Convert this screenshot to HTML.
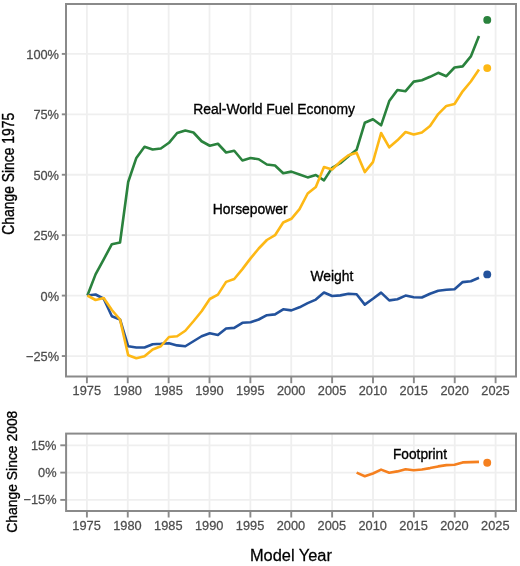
<!DOCTYPE html>
<html><head><meta charset="utf-8"><style>
html,body{margin:0;padding:0;background:#fff;}
svg{display:block;font-family:"Liberation Sans", sans-serif;will-change:transform;}
</style></head><body>
<svg width="520" height="566" viewBox="0 0 520 566">
<rect width="520" height="566" fill="#fff"/>
<line x1="86.90" y1="4" x2="86.90" y2="376.5" stroke="#efefef" stroke-width="1.8"/>
<line x1="127.77" y1="4" x2="127.77" y2="376.5" stroke="#efefef" stroke-width="1.8"/>
<line x1="168.64" y1="4" x2="168.64" y2="376.5" stroke="#efefef" stroke-width="1.8"/>
<line x1="209.51" y1="4" x2="209.51" y2="376.5" stroke="#efefef" stroke-width="1.8"/>
<line x1="250.38" y1="4" x2="250.38" y2="376.5" stroke="#efefef" stroke-width="1.8"/>
<line x1="291.25" y1="4" x2="291.25" y2="376.5" stroke="#efefef" stroke-width="1.8"/>
<line x1="332.12" y1="4" x2="332.12" y2="376.5" stroke="#efefef" stroke-width="1.8"/>
<line x1="372.99" y1="4" x2="372.99" y2="376.5" stroke="#efefef" stroke-width="1.8"/>
<line x1="413.86" y1="4" x2="413.86" y2="376.5" stroke="#efefef" stroke-width="1.8"/>
<line x1="454.73" y1="4" x2="454.73" y2="376.5" stroke="#efefef" stroke-width="1.8"/>
<line x1="495.60" y1="4" x2="495.60" y2="376.5" stroke="#efefef" stroke-width="1.8"/>
<line x1="66" y1="356.03" x2="516" y2="356.03" stroke="#efefef" stroke-width="1.8"/>
<line x1="66" y1="295.60" x2="516" y2="295.60" stroke="#efefef" stroke-width="1.8"/>
<line x1="66" y1="235.18" x2="516" y2="235.18" stroke="#efefef" stroke-width="1.8"/>
<line x1="66" y1="174.75" x2="516" y2="174.75" stroke="#efefef" stroke-width="1.8"/>
<line x1="66" y1="114.33" x2="516" y2="114.33" stroke="#efefef" stroke-width="1.8"/>
<line x1="66" y1="53.90" x2="516" y2="53.90" stroke="#efefef" stroke-width="1.8"/>
<line x1="86.90" y1="433.6" x2="86.90" y2="511.0" stroke="#efefef" stroke-width="1.8"/>
<line x1="127.77" y1="433.6" x2="127.77" y2="511.0" stroke="#efefef" stroke-width="1.8"/>
<line x1="168.64" y1="433.6" x2="168.64" y2="511.0" stroke="#efefef" stroke-width="1.8"/>
<line x1="209.51" y1="433.6" x2="209.51" y2="511.0" stroke="#efefef" stroke-width="1.8"/>
<line x1="250.38" y1="433.6" x2="250.38" y2="511.0" stroke="#efefef" stroke-width="1.8"/>
<line x1="291.25" y1="433.6" x2="291.25" y2="511.0" stroke="#efefef" stroke-width="1.8"/>
<line x1="332.12" y1="433.6" x2="332.12" y2="511.0" stroke="#efefef" stroke-width="1.8"/>
<line x1="372.99" y1="433.6" x2="372.99" y2="511.0" stroke="#efefef" stroke-width="1.8"/>
<line x1="413.86" y1="433.6" x2="413.86" y2="511.0" stroke="#efefef" stroke-width="1.8"/>
<line x1="454.73" y1="433.6" x2="454.73" y2="511.0" stroke="#efefef" stroke-width="1.8"/>
<line x1="495.60" y1="433.6" x2="495.60" y2="511.0" stroke="#efefef" stroke-width="1.8"/>
<line x1="66.1" y1="499.90" x2="516" y2="499.90" stroke="#efefef" stroke-width="1.8"/>
<line x1="66.1" y1="472.60" x2="516" y2="472.60" stroke="#efefef" stroke-width="1.8"/>
<line x1="66.1" y1="445.30" x2="516" y2="445.30" stroke="#efefef" stroke-width="1.8"/>
<polyline points="87.40,295.50 95.56,274.40 103.72,259.30 111.87,244.20 120.03,242.50 128.19,182.00 136.35,157.90 144.51,146.80 152.66,149.50 160.82,148.50 168.98,142.80 177.14,133.00 185.30,130.50 193.45,132.50 201.61,141.25 209.77,145.75 217.93,143.75 226.09,152.50 234.24,150.75 242.40,160.50 250.56,158.00 258.72,159.25 266.88,164.50 275.03,165.50 283.19,173.20 291.35,171.60 299.51,174.50 307.67,177.40 315.82,175.00 323.98,180.40 332.14,167.90 340.30,163.20 348.46,156.20 356.61,149.80 364.77,122.80 372.93,119.30 381.09,125.30 389.25,101.10 397.40,90.00 405.56,91.20 413.72,81.60 421.88,80.20 430.04,76.80 438.19,72.80 446.35,76.20 454.51,67.50 462.67,66.40 470.83,56.40 478.98,36.00" fill="none" stroke="#2a823d" stroke-width="2.6" stroke-linejoin="round" stroke-linecap="butt"/>
<polyline points="87.40,295.50 95.56,294.50 103.72,298.75 111.87,316.25 120.03,319.50 128.19,346.30 136.35,347.50 144.51,347.50 152.66,344.20 160.82,343.80 168.98,343.20 177.14,345.40 185.30,346.25 193.45,341.25 201.61,336.25 209.77,333.30 217.93,335.00 226.09,328.50 234.24,327.90 242.40,322.80 250.56,322.30 258.72,319.50 266.88,315.20 275.03,314.40 283.19,309.30 291.35,310.40 299.51,307.30 307.67,303.10 315.82,299.60 323.98,292.50 332.14,296.00 340.30,295.40 348.46,293.80 356.61,294.20 364.77,304.60 372.93,298.80 381.09,292.60 389.25,300.40 397.40,299.20 405.56,295.60 413.72,297.30 421.88,297.50 430.04,293.70 438.19,290.80 446.35,289.80 454.51,289.20 462.67,282.10 470.83,281.20 478.98,277.70" fill="none" stroke="#23529c" stroke-width="2.6" stroke-linejoin="round" stroke-linecap="butt"/>
<polyline points="87.40,295.50 95.56,300.00 103.72,298.00 111.87,310.00 120.03,319.50 128.19,355.20 136.35,358.20 144.51,356.25 152.66,349.50 160.82,346.25 168.98,337.00 177.14,336.25 185.30,330.75 193.45,321.25 201.61,311.25 209.77,299.00 217.93,294.60 226.09,281.90 234.24,279.00 242.40,269.10 250.56,258.40 258.72,248.50 266.88,240.00 275.03,235.20 283.19,222.50 291.35,218.80 299.51,209.20 307.67,193.50 315.82,187.00 323.98,167.00 332.14,169.50 340.30,161.60 348.46,155.20 356.61,152.70 364.77,172.10 372.93,162.20 381.09,133.00 389.25,147.30 397.40,140.30 405.56,132.00 413.72,134.50 421.88,132.40 430.04,126.00 438.19,114.10 446.35,105.90 454.51,104.00 462.67,91.30 470.83,81.50 478.98,69.60" fill="none" stroke="#fdb815" stroke-width="2.6" stroke-linejoin="round" stroke-linecap="butt"/>
<polyline points="356.61,472.60 364.77,476.20 372.93,473.50 381.09,469.60 389.25,472.80 397.40,471.40 405.56,469.20 413.72,470.30 421.88,469.50 430.04,468.10 438.19,466.40 446.35,465.10 454.51,464.70 462.67,462.40 470.83,462.10 478.98,461.90" fill="none" stroke="#f5801f" stroke-width="2.6" stroke-linejoin="round" stroke-linecap="butt"/>
<circle cx="487.24" cy="19.9" r="3.95" fill="#2a823d"/>
<circle cx="487.24" cy="68.1" r="3.95" fill="#fdb815"/>
<circle cx="487.24" cy="274.4" r="3.95" fill="#23529c"/>
<circle cx="487.24" cy="462.7" r="3.95" fill="#f5801f"/>
<rect x="66" y="4" width="450" height="372.5" fill="none" stroke="#8a8a8a" stroke-width="2"/>
<rect x="66.1" y="433.6" width="449.9" height="77.39999999999998" fill="none" stroke="#8a8a8a" stroke-width="2"/>
<line x1="86.90" y1="376.5" x2="86.90" y2="383.2" stroke="#8a8a8a" stroke-width="1.9"/>
<line x1="86.90" y1="511.0" x2="86.90" y2="517.5" stroke="#8a8a8a" stroke-width="1.9"/>
<line x1="127.77" y1="376.5" x2="127.77" y2="383.2" stroke="#8a8a8a" stroke-width="1.9"/>
<line x1="127.77" y1="511.0" x2="127.77" y2="517.5" stroke="#8a8a8a" stroke-width="1.9"/>
<line x1="168.64" y1="376.5" x2="168.64" y2="383.2" stroke="#8a8a8a" stroke-width="1.9"/>
<line x1="168.64" y1="511.0" x2="168.64" y2="517.5" stroke="#8a8a8a" stroke-width="1.9"/>
<line x1="209.51" y1="376.5" x2="209.51" y2="383.2" stroke="#8a8a8a" stroke-width="1.9"/>
<line x1="209.51" y1="511.0" x2="209.51" y2="517.5" stroke="#8a8a8a" stroke-width="1.9"/>
<line x1="250.38" y1="376.5" x2="250.38" y2="383.2" stroke="#8a8a8a" stroke-width="1.9"/>
<line x1="250.38" y1="511.0" x2="250.38" y2="517.5" stroke="#8a8a8a" stroke-width="1.9"/>
<line x1="291.25" y1="376.5" x2="291.25" y2="383.2" stroke="#8a8a8a" stroke-width="1.9"/>
<line x1="291.25" y1="511.0" x2="291.25" y2="517.5" stroke="#8a8a8a" stroke-width="1.9"/>
<line x1="332.12" y1="376.5" x2="332.12" y2="383.2" stroke="#8a8a8a" stroke-width="1.9"/>
<line x1="332.12" y1="511.0" x2="332.12" y2="517.5" stroke="#8a8a8a" stroke-width="1.9"/>
<line x1="372.99" y1="376.5" x2="372.99" y2="383.2" stroke="#8a8a8a" stroke-width="1.9"/>
<line x1="372.99" y1="511.0" x2="372.99" y2="517.5" stroke="#8a8a8a" stroke-width="1.9"/>
<line x1="413.86" y1="376.5" x2="413.86" y2="383.2" stroke="#8a8a8a" stroke-width="1.9"/>
<line x1="413.86" y1="511.0" x2="413.86" y2="517.5" stroke="#8a8a8a" stroke-width="1.9"/>
<line x1="454.73" y1="376.5" x2="454.73" y2="383.2" stroke="#8a8a8a" stroke-width="1.9"/>
<line x1="454.73" y1="511.0" x2="454.73" y2="517.5" stroke="#8a8a8a" stroke-width="1.9"/>
<line x1="495.60" y1="376.5" x2="495.60" y2="383.2" stroke="#8a8a8a" stroke-width="1.9"/>
<line x1="495.60" y1="511.0" x2="495.60" y2="517.5" stroke="#8a8a8a" stroke-width="1.9"/>
<line x1="61.8" y1="356.03" x2="66" y2="356.03" stroke="#8a8a8a" stroke-width="1.9"/>
<line x1="61.8" y1="295.60" x2="66" y2="295.60" stroke="#8a8a8a" stroke-width="1.9"/>
<line x1="61.8" y1="235.18" x2="66" y2="235.18" stroke="#8a8a8a" stroke-width="1.9"/>
<line x1="61.8" y1="174.75" x2="66" y2="174.75" stroke="#8a8a8a" stroke-width="1.9"/>
<line x1="61.8" y1="114.33" x2="66" y2="114.33" stroke="#8a8a8a" stroke-width="1.9"/>
<line x1="61.8" y1="53.90" x2="66" y2="53.90" stroke="#8a8a8a" stroke-width="1.9"/>
<line x1="60.3" y1="499.90" x2="66.1" y2="499.90" stroke="#8a8a8a" stroke-width="1.9"/>
<line x1="60.3" y1="472.60" x2="66.1" y2="472.60" stroke="#8a8a8a" stroke-width="1.9"/>
<line x1="60.3" y1="445.30" x2="66.1" y2="445.30" stroke="#8a8a8a" stroke-width="1.9"/>
<text transform="translate(86.80,394.90) scale(1,1.04)" text-anchor="middle" font-size="12.8" fill="#4d4d4d" stroke="#4d4d4d" stroke-width="0.25">1975</text>
<text transform="translate(86.60,530.00) scale(1,1.04)" text-anchor="middle" font-size="12.8" fill="#4d4d4d" stroke="#4d4d4d" stroke-width="0.25">1975</text>
<text transform="translate(127.67,394.90) scale(1,1.04)" text-anchor="middle" font-size="12.8" fill="#4d4d4d" stroke="#4d4d4d" stroke-width="0.25">1980</text>
<text transform="translate(127.47,530.00) scale(1,1.04)" text-anchor="middle" font-size="12.8" fill="#4d4d4d" stroke="#4d4d4d" stroke-width="0.25">1980</text>
<text transform="translate(168.54,394.90) scale(1,1.04)" text-anchor="middle" font-size="12.8" fill="#4d4d4d" stroke="#4d4d4d" stroke-width="0.25">1985</text>
<text transform="translate(168.34,530.00) scale(1,1.04)" text-anchor="middle" font-size="12.8" fill="#4d4d4d" stroke="#4d4d4d" stroke-width="0.25">1985</text>
<text transform="translate(209.41,394.90) scale(1,1.04)" text-anchor="middle" font-size="12.8" fill="#4d4d4d" stroke="#4d4d4d" stroke-width="0.25">1990</text>
<text transform="translate(209.21,530.00) scale(1,1.04)" text-anchor="middle" font-size="12.8" fill="#4d4d4d" stroke="#4d4d4d" stroke-width="0.25">1990</text>
<text transform="translate(250.28,394.90) scale(1,1.04)" text-anchor="middle" font-size="12.8" fill="#4d4d4d" stroke="#4d4d4d" stroke-width="0.25">1995</text>
<text transform="translate(250.08,530.00) scale(1,1.04)" text-anchor="middle" font-size="12.8" fill="#4d4d4d" stroke="#4d4d4d" stroke-width="0.25">1995</text>
<text transform="translate(291.15,394.90) scale(1,1.04)" text-anchor="middle" font-size="12.8" fill="#4d4d4d" stroke="#4d4d4d" stroke-width="0.25">2000</text>
<text transform="translate(290.95,530.00) scale(1,1.04)" text-anchor="middle" font-size="12.8" fill="#4d4d4d" stroke="#4d4d4d" stroke-width="0.25">2000</text>
<text transform="translate(332.02,394.90) scale(1,1.04)" text-anchor="middle" font-size="12.8" fill="#4d4d4d" stroke="#4d4d4d" stroke-width="0.25">2005</text>
<text transform="translate(331.82,530.00) scale(1,1.04)" text-anchor="middle" font-size="12.8" fill="#4d4d4d" stroke="#4d4d4d" stroke-width="0.25">2005</text>
<text transform="translate(372.89,394.90) scale(1,1.04)" text-anchor="middle" font-size="12.8" fill="#4d4d4d" stroke="#4d4d4d" stroke-width="0.25">2010</text>
<text transform="translate(372.69,530.00) scale(1,1.04)" text-anchor="middle" font-size="12.8" fill="#4d4d4d" stroke="#4d4d4d" stroke-width="0.25">2010</text>
<text transform="translate(413.76,394.90) scale(1,1.04)" text-anchor="middle" font-size="12.8" fill="#4d4d4d" stroke="#4d4d4d" stroke-width="0.25">2015</text>
<text transform="translate(413.56,530.00) scale(1,1.04)" text-anchor="middle" font-size="12.8" fill="#4d4d4d" stroke="#4d4d4d" stroke-width="0.25">2015</text>
<text transform="translate(454.63,394.90) scale(1,1.04)" text-anchor="middle" font-size="12.8" fill="#4d4d4d" stroke="#4d4d4d" stroke-width="0.25">2020</text>
<text transform="translate(454.43,530.00) scale(1,1.04)" text-anchor="middle" font-size="12.8" fill="#4d4d4d" stroke="#4d4d4d" stroke-width="0.25">2020</text>
<text transform="translate(495.50,394.90) scale(1,1.04)" text-anchor="middle" font-size="12.8" fill="#4d4d4d" stroke="#4d4d4d" stroke-width="0.25">2025</text>
<text transform="translate(495.30,530.00) scale(1,1.04)" text-anchor="middle" font-size="12.8" fill="#4d4d4d" stroke="#4d4d4d" stroke-width="0.25">2025</text>
<text transform="translate(59.00,361.03) scale(1,1.04)" text-anchor="end" font-size="12.8" fill="#4d4d4d" stroke="#4d4d4d" stroke-width="0.25">−25%</text>
<text transform="translate(59.00,300.60) scale(1,1.04)" text-anchor="end" font-size="12.8" fill="#4d4d4d" stroke="#4d4d4d" stroke-width="0.25">0%</text>
<text transform="translate(59.00,240.18) scale(1,1.04)" text-anchor="end" font-size="12.8" fill="#4d4d4d" stroke="#4d4d4d" stroke-width="0.25">25%</text>
<text transform="translate(59.00,179.75) scale(1,1.04)" text-anchor="end" font-size="12.8" fill="#4d4d4d" stroke="#4d4d4d" stroke-width="0.25">50%</text>
<text transform="translate(59.00,119.33) scale(1,1.04)" text-anchor="end" font-size="12.8" fill="#4d4d4d" stroke="#4d4d4d" stroke-width="0.25">75%</text>
<text transform="translate(59.00,58.90) scale(1,1.04)" text-anchor="end" font-size="12.8" fill="#4d4d4d" stroke="#4d4d4d" stroke-width="0.25">100%</text>
<text transform="translate(56.50,504.30) scale(1,1.04)" text-anchor="end" font-size="12.8" fill="#4d4d4d" stroke="#4d4d4d" stroke-width="0.25">−15%</text>
<text transform="translate(56.50,477.00) scale(1,1.04)" text-anchor="end" font-size="12.8" fill="#4d4d4d" stroke="#4d4d4d" stroke-width="0.25">0%</text>
<text transform="translate(56.50,449.70) scale(1,1.04)" text-anchor="end" font-size="12.8" fill="#4d4d4d" stroke="#4d4d4d" stroke-width="0.25">15%</text>
<text transform="translate(13.9,173.8) rotate(-90) scale(1,1.18)" text-anchor="middle" font-size="13.9" fill="#000" stroke="#000" stroke-width="0.3">Change Since 1975</text>
<text transform="translate(17.4,471.7) rotate(-90) scale(1,1.1)" text-anchor="middle" font-size="13.9" fill="#000" stroke="#000" stroke-width="0.3">Change Since 2008</text>
<text transform="translate(290.90,560.60) scale(1,1.04)" text-anchor="middle" font-size="16.4" fill="#000" stroke="#000" stroke-width="0.25">Model Year</text>
<text transform="translate(193.30,113.60) scale(1,1.07)" text-anchor="start" font-size="13.9" fill="#000" stroke="#000" stroke-width="0.33">Real-World Fuel Economy</text>
<text transform="translate(212.80,213.50) scale(1,1.07)" text-anchor="start" font-size="13.9" fill="#000" stroke="#000" stroke-width="0.33">Horsepower</text>
<text transform="translate(310.40,280.90) scale(1,1.07)" text-anchor="start" font-size="13.9" fill="#000" stroke="#000" stroke-width="0.33">Weight</text>
<text transform="translate(393.00,458.60) scale(1,1.07)" text-anchor="start" font-size="13.7" fill="#000" stroke="#000" stroke-width="0.33">Footprint</text>
</svg>
</body></html>
